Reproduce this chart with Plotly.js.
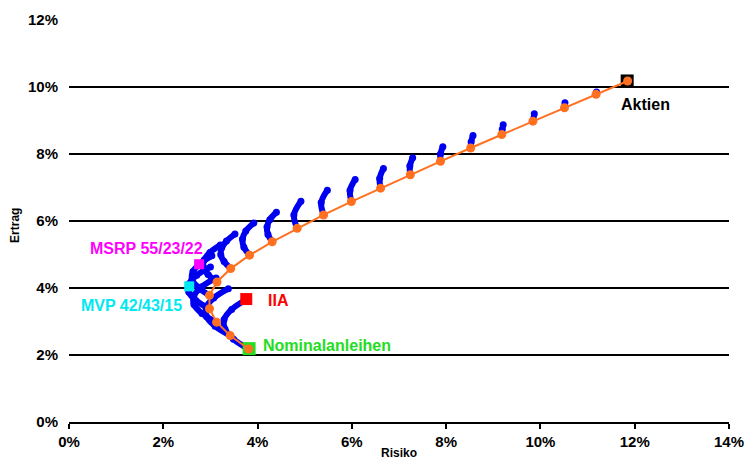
<!DOCTYPE html>
<html>
<head>
<meta charset="utf-8">
<script src="https://cdn.plot.ly/plotly-3.0.1.min.js"></script>
<style>html,body{margin:0;padding:0;background:#fff;}#chart{width:746px;height:461px;}</style>
</head>
<body>
<div id="chart"></div>
<script>
// Orange line: Nominalanleihen + Aktien mixes (stock share 0% .. 100% in 5% steps)
const lineRisk   = [3.81,3.42,3.13,2.98,2.98,3.14,3.43,3.83,4.31,4.84,5.40,5.99,6.61,7.24,7.88,8.52,9.18,9.84,10.51,11.18,11.85];
const lineReturn = [2.18,2.58,2.98,3.38,3.78,4.18,4.58,4.98,5.38,5.78,6.18,6.58,6.98,7.38,7.78,8.18,8.58,8.98,9.38,9.78,10.18];

// Blue arcs: for each stock share, from pure nominal-bond mix to pure IIA mix
const arcRisk = [
  [3.81,3.49,3.31,3.29,3.45,3.75],
  [3.42,3.10,2.92,2.91,3.07,3.38],
  [3.13,2.82,2.65,2.65,2.82,3.12],
  [2.98,2.69,2.54,2.55,2.71,3.00],
  [2.98,2.74,2.61,2.63,2.77,3.03],
  [3.14,2.95,2.85,2.87,2.99,3.21],
  [3.43,3.29,3.22,3.24,3.34,3.52],
  [3.83,3.71,3.68,3.75,3.92],
  [4.31,4.22,4.20,4.26,4.40],
  [4.84,4.77,4.92],
  [5.40,5.35,5.48],
  [5.99,5.96,6.07],
  [6.61,6.59,6.67],
  [7.24,7.23,7.29],
  [7.88,7.88,7.93],
  [8.52,8.53,8.57],
  [9.18,9.19,9.21],
  [9.84,9.87],
  [10.51,10.52],
  [11.18,11.19]
];
const arcReturn = [
  [2.18,2.47,2.77,3.06,3.36,3.65],
  [2.58,2.86,3.14,3.42,3.70,3.98],
  [2.98,3.24,3.51,3.77,4.04,4.30],
  [3.38,3.63,3.88,4.13,4.38,4.63],
  [3.78,4.02,4.25,4.49,4.72,4.96],
  [4.18,4.40,4.62,4.84,5.06,5.28],
  [4.58,4.79,4.99,5.20,5.40,5.61],
  [4.98,5.22,5.46,5.70,5.94],
  [5.38,5.60,5.82,6.04,6.26],
  [5.78,6.18,6.59],
  [6.18,6.55,6.92],
  [6.58,6.91,7.24],
  [6.98,7.27,7.57],
  [7.38,7.64,7.89],
  [7.78,8.00,8.22],
  [8.18,8.36,8.55],
  [8.58,8.73,8.87],
  [8.98,9.20],
  [9.38,9.53],
  [9.78,9.85]
];

// Named portfolios
const pointNames  = ["Nominalanleihen","IIA","Aktien","MSRP 55/23/22","MVP 42/43/15"];
const pointRisk   = [3.82, 3.76, 11.84, 2.76, 2.55];
const pointReturn = [2.19, 3.67, 10.18, 4.71, 4.05];
const pointColors = ["#22dd22","#ff0000","#000000","#ff00ff","#00e8f0"];
const pointSizes  = [13, 12, 13, 10, 10];
// label anchor positions (left edge of text)
const labelRisk   = [4.08, 4.18, 11.67, 0.40, 0.21];
const labelReturn = [2.29, 3.64, 9.49, 5.19, 3.49];

const xTicks = [0,2,4,6,8,10,12,14];
const yTicks = [0,2,4,6,8,10,12];

const blue = "#0000f0";
const orange = "#ff7020";
const traces = [];

for (let i = 0; i < arcRisk.length; i++) {
  traces.push({
    x: arcRisk[i], y: arcReturn[i], type: "scatter", mode: "lines+markers",
    line: {color: blue, width: 6, shape: "spline", smoothing: 1},
    marker: {color: blue, size: 7, opacity: 1},
    hoverinfo: "skip", showlegend: false
  });
}

// squares for named portfolios
traces.push({
  x: pointRisk, y: pointReturn, type: "scatter", mode: "markers",
  marker: {symbol: "square", color: pointColors, size: pointSizes, opacity: 1, line: {width: 0}},
  showlegend: false, hoverinfo: "skip"
});

traces.push({
  x: lineRisk, y: lineReturn, type: "scatter", mode: "lines+markers",
  line: {color: orange, width: 2},
  marker: {color: orange, size: 9, opacity: 1},
  showlegend: false, hoverinfo: "skip"
});

const annotations = pointNames.map((n, i) => ({
  x: labelRisk[i], y: labelReturn[i], xref: "x", yref: "y",
  text: "<b>" + n + "</b>", showarrow: false, xanchor: "left", yanchor: "middle",
  font: {family: "Liberation Sans, Arial, sans-serif", size: 16, color: pointColors[i]}
}));
annotations.push({
  x: 0.5, y: -0.077, xref: "paper", yref: "paper", text: "<b>Risiko</b>", showarrow: false,
  xanchor: "center", yanchor: "middle",
  font: {family: "Liberation Sans, Arial, sans-serif", size: 12, color: "#000"}
});
annotations.push({
  x: -0.082, y: 0.49, xref: "paper", yref: "paper", text: "<b>Ertrag</b>", showarrow: false,
  textangle: -90, xanchor: "center", yanchor: "middle",
  font: {family: "Liberation Sans, Arial, sans-serif", size: 12, color: "#000"}
});

const layout = {
  width: 746, height: 461,
  margin: {l: 69, r: 17, t: 20, b: 39, pad: 0},
  paper_bgcolor: "#fff", plot_bgcolor: "#fff",
  font: {family: "Liberation Sans, Arial, sans-serif", color: "#000"},
  xaxis: {
    range: [0, 14], tickvals: xTicks, ticktext: xTicks.map(v => "<b>" + v + "%</b>"),
    showgrid: false, zeroline: false, showline: true, linecolor: "#000", linewidth: 2,
    ticks: "outside", ticklen: 5, tickwidth: 2, tickcolor: "#000",
    tickfont: {size: 15, color: "#000"}, fixedrange: true
  },
  yaxis: {
    range: [0, 12], tickvals: yTicks, ticktext: yTicks.map(v => "<b>" + v + "%</b>"),
    showgrid: true, gridcolor: "#000", gridwidth: 2, zeroline: false, showline: false,
    ticks: "", ticklabelstandoff: 10,
    tickfont: {size: 15, color: "#000"}, fixedrange: true
  },
  annotations: annotations,
  showlegend: false
};

Plotly.newPlot("chart", traces, layout, {displayModeBar: false, staticPlot: true});
</script>
</body>
</html>
